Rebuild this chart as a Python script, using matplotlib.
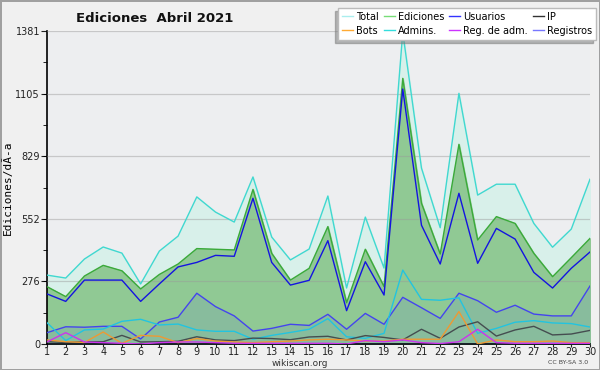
import matplotlib
matplotlib.use('Agg')
import matplotlib.pyplot as plt
from matplotlib.lines import Line2D
from matplotlib.ticker import MultipleLocator

# días de abril 2021
dias = list(range(1, 31))

total = [304, 291, 375, 428, 401, 265, 410, 476, 649, 582, 538, 737, 472, 371, 419,
         653, 247, 560, 335, 1375, 776, 513, 1106, 657, 705, 705, 532, 427, 507, 727]
ediciones = [253, 209, 300, 347, 323, 243, 307, 353, 421, 418, 415, 682, 400, 282, 334,
             518, 182, 418, 253, 1172, 621, 397, 881, 459, 562, 532, 400, 297, 381, 466]
usuarios = [221, 188, 282, 282, 282, 188, 265, 340, 360, 391, 387, 643, 360, 260, 281,
            456, 147, 363, 216, 1125, 524, 353, 665, 356, 510, 463, 316, 247, 334, 406]
registros = [50, 76, 74, 78, 78, 22, 97, 118, 224, 165, 124, 57, 69, 87, 82,
             131, 65, 135, 87, 206, 160, 113, 224, 191, 140, 171, 132, 124, 124, 256]
admins = [94, 15, 62, 66, 100, 109, 84, 88, 62, 56, 56, 21, 38, 51, 65,
          112, 32, 25, 47, 326, 197, 193, 204, 47, 69, 96, 103, 93, 90, 75]
ip = [10, 7, 10, 10, 38, 9, 10, 12, 32, 18, 15, 26, 24, 19, 31,
      34, 18, 37, 29, 18, 65, 25, 75, 98, 35, 62, 78, 40, 44, 60]
bots = [18, 10, 7, 53, 3, 38, 34, 6, 24, 13, 9, 6, 10, 13, 18,
        21, 18, 13, 13, 21, 21, 21, 143, 0, 18, 10, 10, 13, 6, 6]
reg_adm = [9, 50, 9, 6, 3, 0, 6, 9, 9, 6, 3, 3, 3, 3, 3,
           3, 0, 15, 10, 18, 6, 2, 10, 65, 6, 3, 3, 3, 3, 3]

ymax = 1381
yticks = [0, 276, 552, 829, 1105, 1381]

fig = plt.figure(figsize=(6, 3.7), dpi=100)
fig.patch.set_facecolor('#f0f0f0')
fig.patch.set_edgecolor('#a0a0a0')
fig.patch.set_linewidth(2)

ax = fig.add_axes([47/600, 26/370, 543/600, 313/370])
ax.set_facecolor('#edeef0')

# rellenos
ax.fill_between(dias, total, color='#d8f0ea', zorder=1)
ax.fill_between(dias, ediciones, color='#90c994', zorder=2)
ax.fill_between(dias, registros, color='#4040ff', alpha=0.09, lw=0, zorder=3)

for yv in yticks[1:]:
    ax.axhline(yv, color='#999999', lw=0.9, alpha=0.45, zorder=4)

ax.plot(dias, total, color='#40d8d0', lw=1, zorder=5)
ax.plot(dias, ediciones, color='#3aaa3a', lw=1, zorder=5)
ax.plot(dias, usuarios, color='#1414e0', lw=1, zorder=6)
ax.plot(dias, registros, color='#4444ee', lw=1, zorder=6)
ax.plot(dias, admins, color='#22c4e0', lw=1, zorder=6)
ax.plot(dias, ip, color='#454d50', lw=1, zorder=6)
ax.plot(dias, bots, color='#ee9933', lw=1, zorder=6)
ax.plot(dias, reg_adm, color='#cc33ee', lw=1, zorder=7)

ax.set_xlim(1, 30)
ax.set_ylim(0, ymax)
ax.set_xticks(dias)
ax.set_yticks(yticks)
ax.yaxis.set_minor_locator(MultipleLocator(ymax / 10))
ax.tick_params(axis='both', labelsize=7, colors='#222222', length=4, pad=1)
ax.tick_params(axis='y', which='minor', length=3)
ax.tick_params(axis='x', length=2, pad=0.5)
for s in ['top', 'right']:
    ax.spines[s].set_visible(False)
ax.spines['left'].set_linewidth(1.2)
ax.spines['bottom'].set_linewidth(1.2)

ax.set_ylabel('Ediciones/dÃ-a', family='DejaVu Sans Mono', fontsize=8, labelpad=2)

fig.text(155/600, 1 - 18/370, 'Ediciones  Abril 2021', ha='center', va='center',
         fontsize=9.5, fontweight='bold', color='#111111')
fig.text(300/600, 1 - 363/370, 'wikiscan.org', ha='center', va='center',
         fontsize=6.5, color='#333333')
fig.text(588/600, 1 - 363/370, 'CC BY-SA 3.0', ha='right', va='center',
         fontsize=4.5, color='#444444')

handles = [
    Line2D([], [], color='#aaeeee', lw=1, label='Total'),
    Line2D([], [], color='#ffaa33', lw=1, label='Bots'),
    Line2D([], [], color='#77dd77', lw=1, label='Ediciones'),
    Line2D([], [], color='#33dddd', lw=1, label='Admins.'),
    Line2D([], [], color='#3333ff', lw=1, label='Usuarios'),
    Line2D([], [], color='#cc33ff', lw=1, label='Reg. de adm.'),
    Line2D([], [], color='#333333', lw=1, label='IP'),
    Line2D([], [], color='#7777ff', lw=1, label='Registros'),
]
leg = ax.legend(handles=handles, ncol=4, loc='upper right',
                bbox_to_anchor=(596/600, 1 - 8/370), bbox_transform=fig.transFigure,
                fontsize=7, frameon=True, fancybox=False,
                shadow={'ox': -2.5, 'oy': -2.5, 'color': '#777777'},
                handlelength=1.1, handletextpad=0.35, columnspacing=0.5,
                labelspacing=0.4, borderpad=0.4, borderaxespad=0)
leg.get_frame().set_facecolor('white')
leg.get_frame().set_edgecolor('#bbbbbb')
leg.get_frame().set_alpha(1)
leg.set_zorder(10)

fig.savefig('out.png', dpi=100, facecolor=fig.get_facecolor(), edgecolor=fig.get_edgecolor())
